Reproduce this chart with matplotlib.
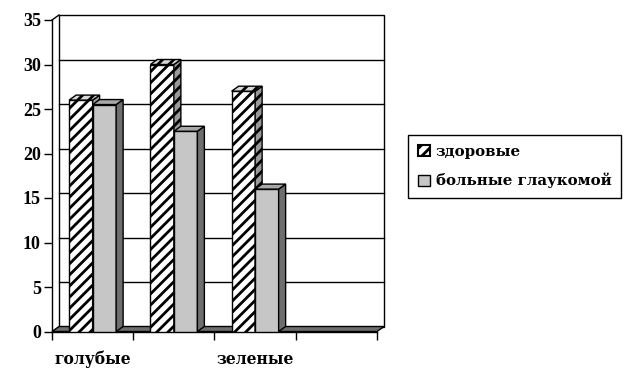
import matplotlib
matplotlib.use("Agg")
import matplotlib.pyplot as plt
from matplotlib.patches import Polygon, Patch

# data
categories = ["голубые", "", "зеленые", ""]
healthy = [26, 30, 27, 0]
glaucoma = [25.5, 22.5, 16, 0]
series_names = ["здоровые", "больные глаукомой"]
yticks = [0, 5, 10, 15, 20, 25, 30, 35]

plt.rcParams['font.family'] = ['Liberation Serif', 'DejaVu Serif']
plt.rcParams['font.weight'] = 'bold'
plt.rcParams['hatch.linewidth'] = 2.0

label_font = dict(family=['DejaVu Serif'], weight='bold', size=11.2)
legend_font = dict(family=['DejaVu Serif'], weight='bold', size=10.8)


def main():
    fig = plt.figure(figsize=(6.41, 3.87), dpi=100)
    ax = fig.add_axes([52 / 641, 1 - 331.5 / 387, 325 / 641, 311.5 / 387])
    n = len(categories)
    ax.set_xlim(0, n)
    ax.set_ylim(0, 35)
    for s in ax.spines.values():
        s.set_visible(False)
    ax.patch.set_visible(False)

    # depth offset in data units (about 7 px right, 5 px up)
    dx = 7 / 81.25
    dy = 5 / 8.9
    ytop = yticks[-1]

    # back wall with grid
    ax.add_patch(Polygon([(dx, dy), (n + dx, dy), (n + dx, ytop + dy), (dx, ytop + dy)],
                         closed=True, fc='white', ec='black', lw=1, zorder=1, clip_on=False))
    for t in yticks[1:-1]:
        ax.plot([dx, n + dx], [t + dy, t + dy], color='black', lw=1, zorder=1.5, clip_on=False)
    # left wall
    ax.plot([0, 0], [0, ytop], color='black', lw=1, zorder=1.5, clip_on=False)
    ax.plot([0, dx], [ytop, ytop + dy], color='black', lw=1, zorder=1.5, clip_on=False)
    # floor
    ax.add_patch(Polygon([(0, 0), (n, 0), (n + dx, dy), (dx, dy)], closed=True,
                         fc='#6e6e6e', ec='black', lw=1, zorder=2, clip_on=False))

    w = 23.5 / 81.25
    z = 3
    for i in range(n):
        for j, (vals, front, side, top, hatch) in enumerate([
                (healthy, 'white', '#9a9a9a', '#d8d8d8', '///'),
                (glaucoma, '#c6c6c6', '#6e6e6e', '#a8a8a8', None)]):
            v = vals[i]
            if v <= 0:
                continue
            x0 = i + 0.5 - w + j * w
            x1 = x0 + w
            ax.bar(x0, v, width=w, align='edge', color=front, edgecolor='black',
                   lw=1, hatch=hatch, zorder=z)
            ax.add_patch(Polygon([(x1, 0), (x1 + dx, dy), (x1 + dx, v + dy), (x1, v)],
                                 closed=True, fc=side, ec='black', lw=1,
                                 hatch=hatch, zorder=z))
            ax.add_patch(Polygon([(x0, v), (x1, v), (x1 + dx, v + dy), (x0 + dx, v + dy)],
                                 closed=True, fc=top, ec='black', lw=1,
                                 hatch=hatch, zorder=z))
            z += 1

    ax.set_yticks(yticks)
    ax.tick_params(axis='y', length=6, width=1, pad=2, labelsize=13)
    ax.set_xticks(range(n + 1))
    ax.set_xticklabels([])
    ax.tick_params(axis='x', which='major', length=6, width=1)
    ax.set_xticks([i + 0.5 for i in range(n)], minor=True)
    ax.set_xticklabels(categories, minor=True, fontdict=label_font)
    ax.tick_params(axis='x', which='minor', length=0, pad=14)
    ax.plot([0, n], [0, 0], color='black', lw=1, zorder=2.5, clip_on=False)

    handles = [Patch(fc='white', ec='black', hatch='///', lw=1.5),
               Patch(fc='#c6c6c6', ec='black', lw=1)]
    leg = fig.legend(handles, series_names, loc='upper left',
                     bbox_to_anchor=(408 / 641, 1 - 135 / 387),
                     frameon=True, fancybox=False, framealpha=1,
                     edgecolor='black', prop=legend_font, handlelength=0.8,
                     handleheight=0.8, handletextpad=0.4, labelspacing=0.95,
                     borderpad=0.65, borderaxespad=0)
    leg.get_frame().set_linewidth(1)

    fig.savefig('out.png', dpi=100)


if __name__ == '__main__':
    main()
